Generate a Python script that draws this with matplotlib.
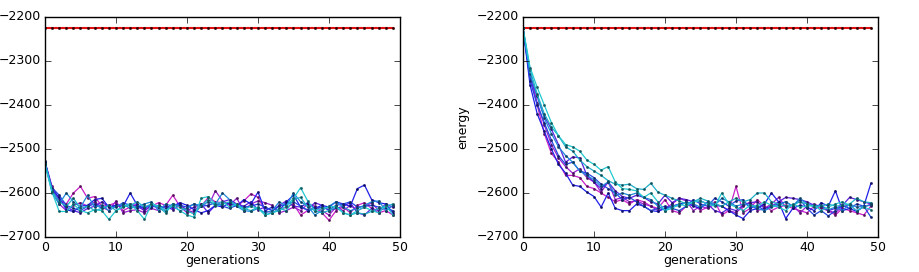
import numpy as np
import matplotlib
matplotlib.use("Agg")
import matplotlib.pyplot as plt
from matplotlib.colors import to_rgb

plt.style.use("classic")
plt.rcParams["figure.facecolor"] = "white"
plt.rcParams["savefig.facecolor"] = "white"
plt.rcParams["font.size"] = 9

generations = np.arange(50)
reference_energy = [-2225] * 50

colors = ["#c81fc8", "#9a20d0", "#5a20e0", "#1f1fe8", "#2448e0",
          "#1f88d8", "#1fb0c8", "#22c8d0"]

# left panel: runs starting from a random population
left_runs = [
    [-2530, -2585, -2615, -2625, -2600, -2585, -2612, -2608, -2630, -2628, -2622, -2640, -2632, -2625, -2640, -2630, -2622, -2628, -2605, -2630, -2638, -2645, -2630, -2610, -2620, -2622, -2625, -2630, -2618, -2602, -2610, -2640, -2645, -2638, -2632, -2625, -2650, -2640, -2632, -2645, -2662, -2640, -2632, -2645, -2628, -2622, -2635, -2645, -2640, -2650],
    [-2532, -2590, -2625, -2640, -2628, -2622, -2630, -2620, -2632, -2640, -2618, -2645, -2640, -2638, -2645, -2635, -2640, -2630, -2635, -2630, -2645, -2640, -2625, -2630, -2595, -2618, -2628, -2612, -2640, -2625, -2618, -2622, -2628, -2645, -2640, -2632, -2640, -2625, -2630, -2640, -2650, -2632, -2640, -2628, -2640, -2632, -2622, -2640, -2635, -2630],
    [-2530, -2595, -2615, -2632, -2640, -2645, -2635, -2630, -2620, -2632, -2628, -2630, -2625, -2630, -2640, -2628, -2635, -2630, -2638, -2625, -2640, -2632, -2625, -2645, -2628, -2620, -2615, -2625, -2630, -2620, -2638, -2632, -2640, -2628, -2618, -2630, -2632, -2638, -2622, -2628, -2640, -2635, -2630, -2622, -2645, -2650, -2635, -2640, -2625, -2632],
    [-2528, -2592, -2610, -2638, -2642, -2630, -2628, -2615, -2612, -2632, -2628, -2630, -2600, -2628, -2635, -2625, -2632, -2640, -2630, -2622, -2628, -2638, -2645, -2640, -2628, -2632, -2622, -2630, -2615, -2625, -2598, -2640, -2632, -2640, -2620, -2605, -2632, -2622, -2635, -2628, -2632, -2620, -2625, -2630, -2590, -2582, -2615, -2622, -2625, -2645],
    [-2530, -2588, -2605, -2628, -2635, -2640, -2630, -2625, -2635, -2630, -2632, -2622, -2628, -2635, -2630, -2632, -2628, -2635, -2625, -2628, -2632, -2625, -2630, -2628, -2622, -2630, -2635, -2628, -2632, -2630, -2625, -2632, -2640, -2630, -2625, -2620, -2630, -2640, -2635, -2632, -2638, -2628, -2625, -2620, -2632, -2630, -2628, -2632, -2635, -2640],
    [-2533, -2600, -2625, -2600, -2620, -2632, -2605, -2632, -2628, -2640, -2630, -2625, -2635, -2630, -2625, -2620, -2640, -2625, -2630, -2640, -2635, -2625, -2630, -2620, -2625, -2600, -2615, -2630, -2640, -2642, -2635, -2645, -2640, -2620, -2630, -2600, -2620, -2630, -2650, -2640, -2630, -2620, -2632, -2640, -2635, -2628, -2620, -2618, -2640, -2628],
    [-2532, -2595, -2620, -2630, -2612, -2635, -2630, -2640, -2635, -2628, -2640, -2632, -2628, -2620, -2632, -2625, -2632, -2645, -2625, -2632, -2640, -2648, -2628, -2615, -2630, -2625, -2620, -2628, -2635, -2640, -2632, -2650, -2645, -2635, -2640, -2615, -2610, -2632, -2640, -2645, -2640, -2632, -2645, -2650, -2645, -2648, -2642, -2635, -2630, -2625],
    [-2535, -2598, -2642, -2642, -2625, -2640, -2645, -2638, -2640, -2660, -2640, -2630, -2625, -2640, -2660, -2625, -2630, -2640, -2628, -2640, -2650, -2655, -2612, -2608, -2625, -2620, -2632, -2625, -2638, -2630, -2635, -2650, -2645, -2640, -2630, -2612, -2588, -2618, -2640, -2635, -2632, -2630, -2645, -2650, -2640, -2632, -2640, -2645, -2628, -2650],
]

# right panel: runs starting from the reference structure
right_runs = [
    [-2225, -2330, -2400, -2465, -2510, -2530, -2560, -2560, -2565, -2585, -2590, -2600, -2610, -2620, -2615, -2625, -2615, -2620, -2630, -2635, -2615, -2640, -2645, -2630, -2625, -2640, -2632, -2620, -2650, -2640, -2585, -2645, -2635, -2615, -2630, -2640, -2632, -2628, -2635, -2640, -2645, -2630, -2635, -2640, -2650, -2635, -2640, -2645, -2650, -2630],
    [-2225, -2335, -2395, -2445, -2490, -2520, -2540, -2555, -2545, -2565, -2575, -2598, -2575, -2615, -2610, -2620, -2618, -2625, -2630, -2640, -2635, -2625, -2612, -2618, -2640, -2630, -2635, -2625, -2630, -2640, -2645, -2630, -2620, -2640, -2635, -2625, -2610, -2632, -2628, -2645, -2630, -2625, -2632, -2640, -2645, -2630, -2628, -2640, -2632, -2625],
    [-2225, -2340, -2380, -2425, -2455, -2490, -2530, -2518, -2520, -2560, -2575, -2590, -2575, -2595, -2608, -2612, -2605, -2610, -2620, -2625, -2605, -2622, -2612, -2615, -2620, -2618, -2625, -2640, -2645, -2635, -2640, -2628, -2622, -2620, -2635, -2630, -2620, -2610, -2612, -2615, -2620, -2628, -2630, -2640, -2635, -2628, -2610, -2615, -2620, -2625],
    [-2225, -2355, -2420, -2460, -2500, -2535, -2555, -2582, -2585, -2598, -2608, -2632, -2600, -2635, -2640, -2640, -2625, -2630, -2640, -2642, -2635, -2630, -2625, -2622, -2630, -2635, -2620, -2628, -2630, -2640, -2650, -2658, -2640, -2635, -2625, -2600, -2620, -2658, -2635, -2628, -2632, -2640, -2622, -2630, -2595, -2640, -2635, -2642, -2630, -2578],
    [-2225, -2345, -2400, -2440, -2480, -2515, -2535, -2530, -2550, -2555, -2565, -2580, -2590, -2600, -2615, -2610, -2620, -2630, -2640, -2635, -2630, -2635, -2640, -2630, -2615, -2625, -2630, -2612, -2620, -2630, -2618, -2615, -2635, -2628, -2640, -2630, -2625, -2620, -2630, -2615, -2635, -2650, -2640, -2652, -2640, -2628, -2635, -2625, -2630, -2655],
    [-2225, -2330, -2380, -2430, -2465, -2495, -2515, -2530, -2550, -2560, -2570, -2585, -2575, -2605, -2600, -2605, -2600, -2610, -2615, -2630, -2640, -2628, -2630, -2620, -2625, -2632, -2622, -2628, -2612, -2620, -2630, -2625, -2628, -2635, -2640, -2632, -2628, -2620, -2630, -2612, -2625, -2630, -2628, -2638, -2632, -2640, -2625, -2632, -2630, -2628],
    [-2225, -2320, -2375, -2420, -2450, -2470, -2495, -2505, -2525, -2540, -2550, -2560, -2572, -2580, -2582, -2580, -2590, -2592, -2578, -2598, -2605, -2612, -2618, -2625, -2620, -2612, -2618, -2625, -2630, -2620, -2612, -2620, -2615, -2600, -2600, -2620, -2625, -2630, -2628, -2620, -2625, -2632, -2630, -2625, -2630, -2628, -2625, -2612, -2620, -2622],
    [-2225, -2315, -2360, -2400, -2440, -2470, -2490, -2495, -2505, -2525, -2535, -2548, -2540, -2575, -2590, -2592, -2595, -2610, -2600, -2620, -2640, -2635, -2625, -2630, -2620, -2618, -2625, -2630, -2600, -2625, -2632, -2640, -2628, -2630, -2620, -2628, -2632, -2640, -2625, -2632, -2630, -2628, -2640, -2632, -2625, -2620, -2628, -2640, -2632, -2638],
]


def draw_panel(ax, runs):
    ax.plot(generations, reference_energy, color="#e01010", lw=1.5,
            marker=".", ms=3, mec="#300000", mfc="#300000")
    for run, c in zip(runs, colors):
        dark = tuple(v * 0.45 for v in to_rgb(c))
        ax.plot(generations, run, color=c, lw=0.9, marker=".", ms=3,
                mec=dark, mfc=dark, mew=0.4)
    ax.set_xlim(0, 50)
    ax.set_ylim(-2700, -2200)
    ax.set_xticks([0, 10, 20, 30, 40, 50])
    ax.set_yticks([-2700, -2600, -2500, -2400, -2300, -2200])
    ax.set_xlabel("generations", labelpad=0)
    ax.set_ylabel("energy")
    ax.tick_params(labelsize=9, pad=3)


fig = plt.figure(figsize=(9.2, 2.72), dpi=100)
ax1 = fig.add_axes([45 / 920, 1 - 237 / 272, 355 / 920, 220 / 272])
ax2 = fig.add_axes([523 / 920, 1 - 237 / 272, 355 / 920, 220 / 272])
draw_panel(ax1, left_runs)
draw_panel(ax2, right_runs)

fig.savefig("out.png", dpi=100)
